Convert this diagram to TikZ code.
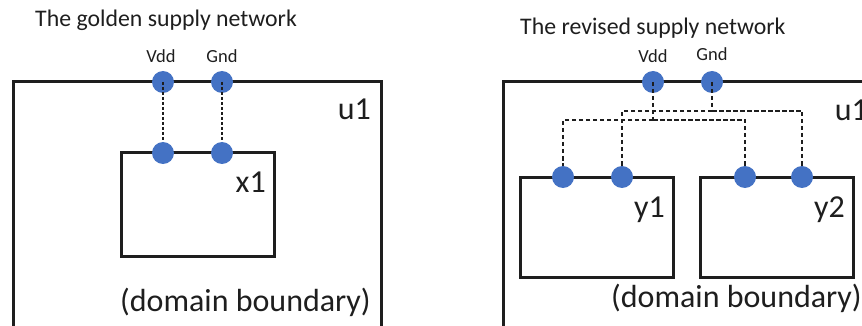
\documentclass[tikz,border=0pt]{standalone}
\usepackage{fontspec}
\setmainfont{Carlito}
\definecolor{pinblue}{HTML}{4472C4}
\definecolor{ink}{HTML}{1E1E1E}
\tikzset{
  blk/.style={draw=ink, line width=3pt},
  pin/.style={circle, fill=pinblue, inner sep=0pt, minimum size=22pt},
  wire/.style={draw=ink, line width=2.4pt, dash pattern=on 3pt off 2pt},
  widewire/.style={draw=ink, line width=2.4pt, dash pattern=on 4.5pt off 2.5pt},
  hdr/.style={font=\fontsize{23.8}{27}\selectfont, text=ink, inner sep=0pt, anchor=base west},
  pinlabel/.style={font=\fontsize{18.5}{20}\selectfont, text=ink, inner sep=0pt, anchor=base},
  bigtag/.style={font=\fontsize{32}{36}\selectfont, text=ink, inner sep=0pt, anchor=base east},
}
\begin{document}
\begin{tikzpicture}[x=1pt, y=-1pt]
\useasboundingbox (0,0) rectangle (862,326);
\clip (0,0) rectangle (862,326);

% ---------- golden supply network ----------
\node[hdr] (t1) at (35,27) {The golden supply network};
\draw[blk] (13,82) rectangle (381,345);
\draw[blk] (121,153) rectangle (274,256);
\node[pinlabel] (lvdd) at (161,63) {Vdd};
\node[pinlabel] (lgnd) at (222,63) {Gnd};
\node[pin] (vdd1) at (163,82) {};
\node[pin] (gnd1) at (222,82) {};
\node[pin] (xv) at (163,153) {};
\node[pin] (xg) at (222,153) {};
\draw[wire] (vdd1.center) -- (xv.north);
\draw[wire] (gnd1.center) -- (xg.north);
\node[bigtag] (u1a) at (371,120) {u1};
\node[bigtag] (x1) at (266,192) {x1};
\node[bigtag] (dom1) at (371,311) {(domain boundary)};

% ---------- revised supply network ----------
\node[hdr] (t2) at (520,35) {The revised supply network};
\draw[blk] (503,82) rectangle (890,345);
\draw[blk] (520,177) rectangle (673,277);
\draw[blk] (700,177) rectangle (853,277);
\node[pinlabel] (rvdd) at (653,63) {Vdd};
\node[pinlabel] (rgnd) at (712,61) {Gnd};
\node[pin] (vdd2) at (653,82) {};
\node[pin] (gnd2) at (712,82) {};
\node[pin] (y1v) at (563,177) {};
\node[pin] (y1g) at (622,177) {};
\node[pin] (y2v) at (745,177) {};
\node[pin] (y2g) at (802,177) {};
\coordinate (vbus) at (653,120);
\coordinate (gbus) at (712,111);
\draw[widewire] (vdd2.center) -- (vbus);
\draw[widewire] (vbus) -| (y1v.north);
\draw[widewire] (vbus) -| (y2v.north);
\draw[widewire] (gnd2.center) -- (gbus);
\draw[widewire] (gbus) -| (y1g.north);
\draw[widewire] (gbus) -| (y2g.north);
\node[bigtag] (u1b) at (868,121) {u1};
\node[bigtag] (y1) at (665,217) {y1};
\node[bigtag] (y2) at (845,217) {y2};
\node[bigtag] (dom2) at (862,307) {(domain boundary)};
\end{tikzpicture}
\end{document}
